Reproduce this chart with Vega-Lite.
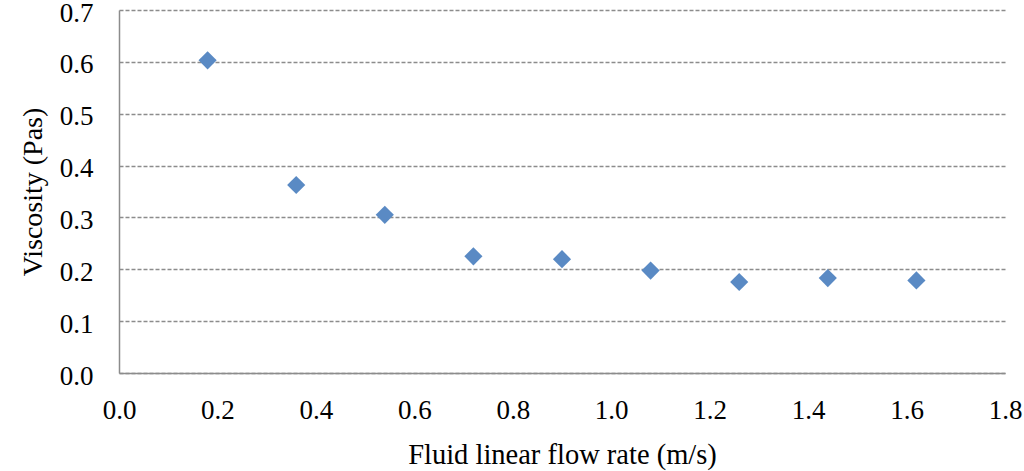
{
  "$schema": "https://vega.github.io/schema/vega-lite/v6.json",
  "width": 886,
  "height": 363,
  "autosize": {"type": "none"},
  "padding": {"left": 119, "top": 10, "right": 19, "bottom": 98},
  "background": "white",
  "config": {
    "view": {"stroke": null},
    "font": "Liberation Serif",
    "axis": {"labelFont": "Liberation Serif", "titleFont": "Liberation Serif"}
  },
  "data": {
    "values": [
      {"rate": 0.18, "viscosity": 0.603},
      {"rate": 0.36, "viscosity": 0.3625},
      {"rate": 0.54, "viscosity": 0.305},
      {"rate": 0.72, "viscosity": 0.225},
      {"rate": 0.90, "viscosity": 0.2195},
      {"rate": 1.08, "viscosity": 0.1975},
      {"rate": 1.26, "viscosity": 0.1755},
      {"rate": 1.44, "viscosity": 0.183},
      {"rate": 1.62, "viscosity": 0.1785}
    ]
  },
  "mark": {"type": "point", "shape": "diamond", "filled": true, "size": 330, "color": "#5A8AC4", "opacity": 1},
  "encoding": {
    "x": {
      "field": "rate",
      "type": "quantitative",
      "scale": {"domain": [0, 1.8], "nice": false, "zero": true},
      "axis": {
        "values": [0, 0.2, 0.4, 0.6, 0.8, 1.0, 1.2, 1.4, 1.6, 1.8],
        "format": ".1f",
        "title": "Fluid linear flow rate (m/s)",
        "titleFont": "Liberation Serif",
        "titleFontSize": 28.5,
        "titleFontWeight": "normal",
        "titleColor": "#000",
        "titlePadding": 17,
        "labelFont": "Liberation Serif",
        "labelFontSize": 27,
        "labelColor": "#000",
        "labelPadding": 24,
        "labelFlush": false,
        "labelOverlap": false,
        "ticks": false,
        "grid": false,
        "domainColor": "#8C8C8C",
        "domainWidth": 1.5
      }
    },
    "y": {
      "field": "viscosity",
      "type": "quantitative",
      "scale": {"domain": [0, 0.7], "nice": false},
      "axis": {
        "values": [0, 0.1, 0.2, 0.3, 0.4, 0.5, 0.6, 0.7],
        "format": ".1f",
        "title": "Viscosity (Pas)",
        "titleFont": "Liberation Serif",
        "titleFontSize": 28,
        "titleFontWeight": "normal",
        "titleColor": "#000",
        "titlePadding": 12,
        "labelFont": "Liberation Serif",
        "labelFontSize": 27,
        "labelColor": "#000",
        "labelPadding": 26,
        "labelOffset": 3,
        "labelFlush": false,
        "labelOverlap": false,
        "ticks": false,
        "grid": true,
        "gridColor": "#8C8C8C",
        "gridDash": [4, 2],
        "gridWidth": 1.3,
        "domainColor": "#8C8C8C",
        "domainWidth": 1.5
      }
    }
  }
}
